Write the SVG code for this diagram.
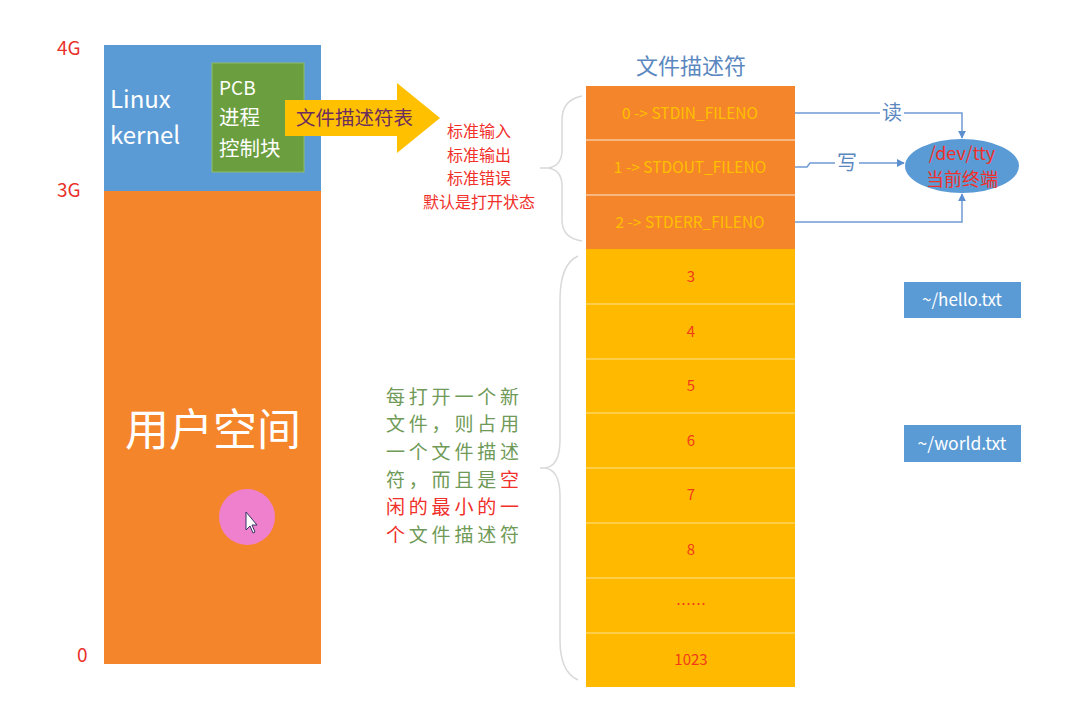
<svg xmlns="http://www.w3.org/2000/svg" width="1067" height="702" viewBox="0 0 1067 702">
<defs>
<style>
text{font-family:"Noto Sans CJK SC","Noto Sans",sans-serif}
.axis{fill:#E8312A;font-size:19px}
.w{fill:#ffffff}
.red{fill:#F0302A;font-size:16px}
.fdt{fill:#FFC000;font-size:15.5px}
.fdn{fill:#F23A1A;font-size:15px}
.grn{fill:#6F9A57;font-size:19px;letter-spacing:3.8px}
.rd2{fill:#F0302A;font-size:19px;letter-spacing:3.8px}
.conn{fill:none;stroke:#6F9BD2;stroke-width:1.5}
.brace{fill:none;stroke:#D9D9D9;stroke-width:1.5}
.sep{stroke:#F6C9A0;stroke-width:1.5}
</style>
<marker id="ah" viewBox="0 0 10 10" refX="9" refY="5" markerWidth="8" markerHeight="8" orient="auto-start-reverse" markerUnits="userSpaceOnUse">
<path d="M0,0 L10,5 L0,10 z" fill="#5B8FD0"/>
</marker>
</defs>
<rect width="1067" height="702" fill="#ffffff"/>

<g id="axis">
<text class="axis" x="57" y="55">4G</text>
<text class="axis" x="57" y="197">3G</text>
<text class="axis" x="77" y="662">0</text>
</g>

<g id="kernel">
<rect x="104" y="45" width="217" height="146" fill="#5B9BD5"/>
<text class="w" x="110" y="108" font-size="24">Linux</text>
<text class="w" x="110" y="144" font-size="24">kernel</text>
</g>

<g id="pcb">
<rect x="212" y="63" width="92" height="109" fill="#6A9E3E" stroke="#8FBC6A" stroke-width="1"/>
<text class="w" x="219" y="95" font-size="19">PCB</text>
<text class="w" x="219" y="125" font-size="20.5">进程</text>
<text class="w" x="219" y="156" font-size="20.5">控制块</text>
</g>

<g id="user">
<rect x="104" y="191" width="217" height="473" fill="#F5852A"/>
<text class="w" x="213" y="446" font-size="44" text-anchor="middle">用户空间</text>
<circle cx="247" cy="517" r="28" fill="#EE7FD6" opacity="0.95"/>
<path d="M246,512 L246,530 L250,526 L253,533 L255,532 L252,525 L257,525 z" fill="#ffffff" stroke="#333366" stroke-width="1"/>
</g>

<g id="fdtable-arrow">
<path d="M285,100 L397,100 L397,83 L440,118 L397,153 L397,136 L285,136 z" fill="#FFC000"/>
<text x="296" y="125" font-size="19.5" fill="#6B2E5E">文件描述符表</text>
</g>

<g id="std-note">
<text class="red" x="479" y="137" text-anchor="middle">标准输入</text>
<text class="red" x="479" y="161" text-anchor="middle">标准输出</text>
<text class="red" x="479" y="184" text-anchor="middle">标准错误</text>
<text class="red" x="479" y="208" text-anchor="middle">默认是打开状态</text>
</g>

<g id="title">
<text x="691" y="74" font-size="22" fill="#5B87C0" text-anchor="middle">文件描述符</text>
</g>

<g id="fd-std">
<rect x="586" y="86" width="209" height="163" fill="#F5852A"/>
<line class="sep" x1="586" y1="140" x2="795" y2="140"/>
<line class="sep" x1="586" y1="195" x2="795" y2="195"/>
<text class="fdt" x="690" y="119" text-anchor="middle">0 -&gt; STDIN_FILENO</text>
<text class="fdt" x="690" y="173" text-anchor="middle">1 -&gt; STDOUT_FILENO</text>
<text class="fdt" x="690" y="228" text-anchor="middle">2 -&gt; STDERR_FILENO</text>
</g>

<g id="fd-rest">
<rect x="586" y="249" width="209" height="438" fill="#FFBA00"/>
<g stroke="#FFD460" stroke-width="1.5">
<line x1="586" y1="304" x2="795" y2="304"/>
<line x1="586" y1="359" x2="795" y2="359"/>
<line x1="586" y1="413" x2="795" y2="413"/>
<line x1="586" y1="468" x2="795" y2="468"/>
<line x1="586" y1="523" x2="795" y2="523"/>
<line x1="586" y1="578" x2="795" y2="578"/>
<line x1="586" y1="633" x2="795" y2="633"/>
</g>
<text class="fdn" x="691" y="282" text-anchor="middle">3</text>
<text class="fdn" x="691" y="337" text-anchor="middle">4</text>
<text class="fdn" x="691" y="391" text-anchor="middle">5</text>
<text class="fdn" x="691" y="446" text-anchor="middle">6</text>
<text class="fdn" x="691" y="500" text-anchor="middle">7</text>
<text class="fdn" x="691" y="555" text-anchor="middle">8</text>
<text class="fdn" x="691" y="610" text-anchor="middle">……</text>
<text class="fdn" x="691" y="665" text-anchor="middle">1023</text>
</g>

<g id="tty">
<ellipse cx="962" cy="166" rx="57" ry="27" fill="#5B9BD5"/>
<text x="962" y="160" font-size="18" fill="#F0302A" text-anchor="middle">/dev/tty</text>
<text x="962" y="186" font-size="18" fill="#F0302A" text-anchor="middle">当前终端</text>
</g>

<g id="hello">
<rect x="904" y="282" width="117" height="36" fill="#5B9BD5"/>
<text x="962" y="306" font-size="17" fill="#ffffff" text-anchor="middle">~/hello.txt</text>
</g>

<g id="world">
<rect x="904" y="425" width="117" height="37" fill="#5B9BD5"/>
<text x="962" y="450" font-size="17.5" fill="#ffffff" text-anchor="middle">~/world.txt</text>
</g>

<g id="note">
<text class="grn" x="386" y="404">每打开一个新</text>
<text class="grn" x="386" y="431">文件，则占用</text>
<text class="grn" x="386" y="459">一个文件描述</text>
<text class="grn" x="386" y="487">符，而且是<tspan fill="#F0302A">空</tspan></text>
<text class="rd2" x="386" y="514">闲的最小的一</text>
<text class="grn" x="386" y="542"><tspan fill="#F0302A">个</tspan>文件描述符</text>
</g>

<g id="connectors">
<path class="brace" d="M582,96 Q562,100 562,120 L562,150 Q562,166 548,168 L540,168 M548,168 Q562,170 562,186 L562,220 Q562,238 582,241"/>
<path class="brace" d="M578,256 Q560,264 560,300 L560,440 Q560,466 545,468 L540,468 M545,468 Q560,470 560,496 L560,640 Q560,672 578,680"/>
<path class="conn" d="M795,113 L962,113 L962,138" marker-end="url(#ah)"/>
<path class="conn" d="M795,167 L807,167 L810,163 L904,163" marker-end="url(#ah)"/>
<path class="conn" d="M795,222 L962,222 L962,194" marker-end="url(#ah)"/>
<rect x="880" y="101" width="24" height="24" fill="#ffffff"/>
<text x="892" y="120" font-size="20" fill="#5B87C0" text-anchor="middle">读</text>
<rect x="835" y="151" width="24" height="24" fill="#ffffff"/>
<text x="847" y="170" font-size="20" fill="#5B87C0" text-anchor="middle">写</text>
</g>
</svg>
